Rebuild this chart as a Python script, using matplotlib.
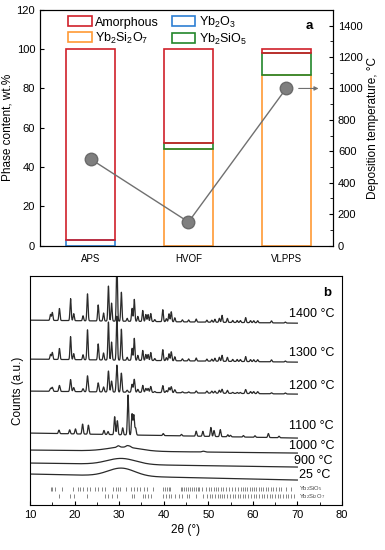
import numpy as np
import matplotlib
matplotlib.use("Agg")
import matplotlib.pyplot as plt
from matplotlib.patches import Patch

plt.rcParams['font.family'] = ['Liberation Sans', 'DejaVu Sans']
plt.rcParams['mathtext.default'] = 'regular'

# ---- panel a data ----
procesos = ['APS', 'HVOF', 'VLPPS']
yb2o3 = [3, 0, 0]
yb2si2o7 = [0, 49, 87]
yb2sio5 = [0, 3, 11]
amorfo = [97, 48, 2]
temp_depo = [550, 150, 1000]

# ---- panel b data (XRD, 2theta in deg, heights in a.u.) ----
picos_1400 = [14.6, 15.0, 16.6, 19.1, 19.8, 21.9, 22.9, 25.3, 26.5, 27.6, 28.3, 29.5, 30.5,
              31.8, 32.9, 33.4, 34.2, 35.3, 36.0, 36.5, 37.1, 38.0, 39.8, 40.6, 41.2, 41.7,
              42.5, 44.2, 45.6, 47.3, 49.7, 50.8, 51.5, 52.5, 53.1, 54.3, 55.5, 56.5, 57.2,
              58.4, 59.5, 60.2, 61.1, 64.2, 67.3]
alt_1400 = [6, 8, 12, 22, 7, 5, 27, 16, 8, 35, 18, 60, 29,
            3, 13, 22, 5, 11, 7, 7, 8, 2, 12, 3, 8, 10,
            4, 2, 2, 3, 2, 2, 3, 4, 7, 4, 2, 2, 2,
            5, 2, 2, 2, 2, 1]
alt_1300 = [5, 7, 11, 23, 6, 5, 30, 16, 7, 38, 18, 44, 31,
            3, 12, 22, 5, 10, 6, 6, 8, 2, 11, 3, 7, 9,
            4, 2, 2, 3, 2, 2, 3, 4, 6, 4, 2, 2, 2,
            5, 2, 2, 2, 2, 1]
alt_1200 = [3, 4, 6, 12, 4, 3, 16, 9, 5, 21, 11, 27, 19,
            2, 8, 13, 3, 7, 4, 4, 6, 1, 7, 2, 5, 6,
            3, 1, 1, 2, 2, 2, 2, 3, 4, 3, 1, 1, 1,
            4, 2, 2, 2, 1, 1]
picos_1100 = [16.5, 18.9, 20.2, 21.8, 23.1, 26.6, 27.5, 29.0, 29.6, 30.8, 32.0, 32.9, 33.3,
              33.7, 39.9, 44.0, 47.3, 48.8, 50.6, 51.3, 52.7, 54.4, 55.0, 57.9, 60.5, 63.5, 65.9]
alt_1100 = [3.5, 4, 5, 10, 9, 4, 3, 18, 14, 7, 40, 21, 20,
            7, 2, 1.5, 5, 5, 9, 6, 7, 2, 1.5, 1.5, 1.5, 4, 1.5]
picos_1000 = [29.8, 31.8, 32.4, 48.9]
alt_1000 = [1.5, 1.5, 1.2, 0.8]

# fondo: (nivel a 10°, nivel a 70°, altura joroba, centro, ancho)
fondo = {
    '1400 °C': (185, 182, 0, 30.5, 3.0),
    '1300 °C': (146, 143, 0, 30.5, 3.0),
    '1200 °C': (114, 111, 0, 30.5, 3.0),
    '1100 °C': (72, 67, 0, 30.5, 3.0),
    '1000 °C': (55, 52, 4, 31.0, 3.5),
    '900 °C': (42, 38, 6, 30.5, 3.2),
    '25 °C': (31, 25, 8, 30.5, 3.0),
}
etiqueta_y = {'1400 °C': 191, '1300 °C': 152, '1200 °C': 119, '1100 °C': 79,
              '1000 °C': 59, '900 °C': 44, '25 °C': 30}

ref_sio5 = [14.6, 15.0, 15.5, 17.1, 19.6, 20.8, 21.2, 22.0, 22.9, 23.5, 24.6, 25.2, 26.1, 26.9,
            28.6, 29.2, 29.7, 30.3, 31.6, 32.7, 33.3, 34.1, 34.6, 35.5, 36.2, 37.7, 39.9, 40.3,
            40.7, 41.1, 41.5, 43.8, 44.2, 44.6, 45.0, 45.4, 45.9, 46.3, 46.7, 47.2, 47.6, 48.0,
            48.5, 49.5, 50.1, 50.7, 51.2, 51.8, 52.3, 52.9, 53.4, 54.0, 54.6, 55.3, 56.0, 56.6,
            57.3, 57.8, 58.3, 58.8, 59.3, 59.8, 60.3, 60.8, 61.4, 61.9, 62.4, 62.9, 63.5, 64.0,
            64.6, 65.2, 65.8, 66.4, 67.5, 68.6]
ref_si2o7 = [16.6, 19.0, 19.8, 22.9, 26.8, 27.6, 28.3, 29.6, 32.9, 33.4, 35.3, 35.9, 36.5,
             37.1, 39.8, 40.6, 41.2, 41.7, 42.5, 43.5, 44.2, 45.2, 45.6, 47.3, 48.9, 49.7, 50.3,
             50.8, 51.5, 52.1, 52.6, 53.1, 53.6, 54.3, 54.8, 55.5, 56.0, 56.6, 57.2, 57.7, 58.3,
             58.9, 59.5, 60.2, 60.8, 61.4, 62.0, 62.6, 63.2, 63.8, 64.4, 65.0, 65.6, 66.2, 66.8,
             67.4, 68.0, 68.6, 69.2]

c_amorfo = '#d0202a'
c_yb2o3 = '#2d7fd3'
c_si2o7 = '#ff9a35'
c_sio5 = '#23862b'

fig = plt.figure(figsize=(3.85, 5.5), dpi=100)

# ================= panel a =================
ax = fig.add_axes([0.104, 0.5535, 0.761, 0.4285])
x = np.arange(len(procesos))
ancho = 0.5
base = np.zeros(len(procesos))
for vals, col in [(yb2o3, c_yb2o3), (yb2si2o7, c_si2o7), (yb2sio5, c_sio5), (amorfo, c_amorfo)]:
    vals = np.array(vals, dtype=float)
    m = vals > 0
    ax.bar(x[m], vals[m], bottom=base[m], width=ancho, fill=False, edgecolor=col, linewidth=1.2)
    base += vals

ax.set_xlim(-0.52, 2.48)
ax.set_ylim(0, 120)
ax.set_yticks(range(0, 121, 20))
ax.set_xticks(x)
ax.set_xticklabels(procesos, fontsize=7)
ax.tick_params(axis='y', direction='in', labelsize=8, length=3)
ax.tick_params(axis='x', direction='in', length=0, pad=6)
ax.set_ylabel('Phase content, wt.%', fontsize=8.5, labelpad=2)

ax2 = ax.twinx()
ax2.plot(x, temp_depo, '-', color='#707070', lw=1.0, marker='o', ms=9,
         mfc='#7f7f7f', mec='#6a6a6a', zorder=5)
ax2.annotate('', xy=(2.36, temp_depo[2]), xytext=(2.1, temp_depo[2]),
             arrowprops=dict(arrowstyle='-|>', color='#707070', lw=0.8, mutation_scale=6))
ax2.set_ylim(0, 1500)
ax2.set_yticks(range(0, 1401, 200))
ax2.set_yticks(range(100, 1500, 200), minor=True)
ax2.tick_params(axis='y', which='major', direction='in', labelsize=8, length=3)
ax2.tick_params(axis='y', which='minor', direction='in', length=2)
ax2.set_ylabel('Deposition temperature, °C', fontsize=8.5, labelpad=3)

manijas = [Patch(fill=False, edgecolor=c_amorfo, lw=1.2, label='Amorphous'),
           Patch(fill=False, edgecolor=c_si2o7, lw=1.2, label=r'Yb$_2$Si$_2$O$_7$'),
           Patch(fill=False, edgecolor=c_yb2o3, lw=1.2, label=r'Yb$_2$O$_3$'),
           Patch(fill=False, edgecolor=c_sio5, lw=1.2, label=r'Yb$_2$SiO$_5$')]
ax.legend(handles=manijas, ncol=2, loc='upper left', bbox_to_anchor=(0.095, 0.98),
          frameon=False, fontsize=9, handlelength=1.9, handleheight=0.85,
          handletextpad=0.3, columnspacing=1.0, labelspacing=0.15, borderpad=0, borderaxespad=0)
ax.text(0.92, 0.93, 'a', transform=ax.transAxes, fontsize=9.5, fontweight='bold',
        ha='center', va='center')

# ================= panel b =================
bx = fig.add_axes([0.078, 0.0818, 0.81, 0.416])
tt = np.linspace(10, 70, 4000)


def patron(nombre, picos, alturas, sigma):
    y0, y1, hump, cen, w = fondo[nombre]
    y = y0 + (y1 - y0) * (tt - 10) / 60 + hump * np.exp(-0.5 * ((tt - cen) / w) ** 2)
    for p, h in zip(picos, alturas):
        y = y + h * np.exp(-0.5 * ((tt - p) / sigma) ** 2)
    return y


curvas = [
    ('1400 °C', picos_1400, alt_1400, 0.13),
    ('1300 °C', picos_1400, alt_1300, 0.13),
    ('1200 °C', picos_1400, alt_1200, 0.15),
    ('1100 °C', picos_1100, alt_1100, 0.14),
    ('1000 °C', picos_1000, alt_1000, 0.3),
    ('900 °C', [], [], 0.2),
    ('25 °C', [], [], 0.2),
]
for nombre, pk, hh, sg in curvas:
    bx.plot(tt, patron(nombre, pk, hh, sg), color='#2a2a2a', lw=0.9)
    xt = 68.2 if nombre not in ('900 °C', '25 °C') else (69.2 if nombre == '900 °C' else 70.4)
    bx.text(xt, etiqueta_y[nombre], nombre, fontsize=9, ha='left', va='center')

bx.vlines(ref_sio5, 14, 18, color='#555555', lw=0.5)
bx.vlines(ref_si2o7, 7, 11, color='#555555', lw=0.5)
bx.text(70.3, 16.5, r'Yb$_2$SiO$_5$', fontsize=4.2, va='center', color='#444444')
bx.text(70.3, 8.5, r'Yb$_2$Si$_2$O$_7$', fontsize=4.2, va='center', color='#444444')

bx.text(76.8, 212, 'b', fontsize=9.5, fontweight='bold', ha='center', va='center')
bx.set_xlim(10, 80)
bx.set_ylim(0, 229)
bx.set_xticks(range(10, 81, 10))
bx.set_xticks(range(15, 80, 10), minor=True)
bx.set_yticks([])
bx.tick_params(axis='x', which='major', direction='in', length=3, labelsize=8)
bx.tick_params(axis='x', which='minor', direction='in', length=2)
bx.set_xlabel('2θ (°)', fontsize=8.5, labelpad=3)
bx.set_ylabel('Counts (a.u.)', fontsize=8.5, labelpad=4)

fig.savefig('out.png', dpi=100)
